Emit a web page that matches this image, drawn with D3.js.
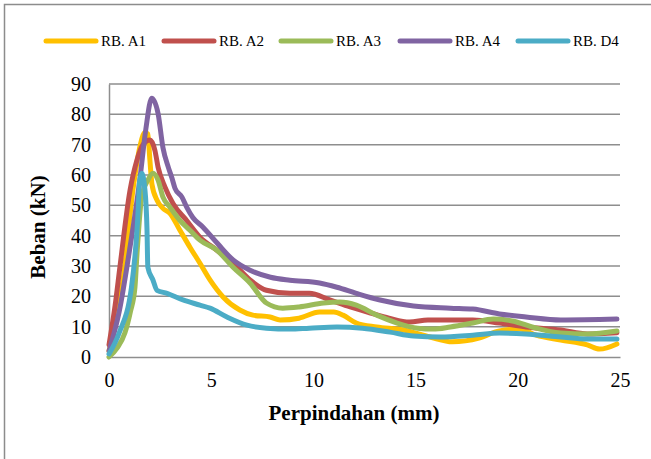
<!DOCTYPE html>
<html lang="en">
<head>
    <meta charset="UTF-8">
    <title>Beban - Perpindahan</title>
    <script src="https://d3js.org/d3.v7.min.js"></script>
    <style>
        body { margin: 0; background: #fff; }
        text { font-family: "Liberation Serif", "Times New Roman", serif; }
    </style>
</head>
<body>
    <svg width="651" height="459"></svg>

    <script>
        // Series names and colours
        const seriesNames = ["RB. A1", "RB. A2", "RB. A3", "RB. A4", "RB. D4"];
        const seriesColors = ["#FFC000", "#C0504D", "#9BBB59", "#8064A2", "#4BACC6"];

        // Values: [perpindahan (mm), beban (kN)]
        const rbA1 = [[0,2],[0.35,12],[0.68,25],[1.17,55],[1.5,69],[1.76,74],[1.9,73.5],[2.0,65],[2.1,57],[2.35,51.7],[2.64,49],[2.98,47.4],[3.47,41.8],[3.96,36.2],[4.45,30.9],[4.94,25.4],[5.58,19.8],[6.4,15.5],[7.04,13.8],[7.88,13.2],[8.37,12.2],[9.3,12.8],[10.3,14.8],[11,14.8],[11.45,13.8],[12.1,11.2],[13.1,9.9],[14.4,8.9],[15.7,6.6],[16.8,5],[18.1,6.2],[19.1,8.6],[20.1,9.2],[20.9,7.2],[22.1,5.6],[23.4,4],[24,2.6],[24.85,4.3]];
        const rbA2 = [[0,4],[0.3,17],[0.54,30],[1.03,55],[1.37,65],[1.66,70],[2.0,71.5],[2.25,68],[2.4,62.6],[2.74,56],[3.13,50.6],[3.8,45],[4.45,39.5],[5.28,35.2],[6.07,30.9],[6.9,25.4],[7.7,22],[8.85,21],[9.8,21],[10.8,18.8],[11.8,16.5],[12.8,14.5],[13.7,12.8],[14.7,11.5],[15.6,12.2],[16.7,12.2],[17.8,12.2],[19.1,11.2],[20.4,9.9],[22.1,8.9],[23.4,7.6],[24.85,8]];
        const rbA3 = [[0,0],[0.4,3],[0.78,8],[1.05,15],[1.27,23],[1.37,34],[1.6,52.7],[1.9,58.3],[2.15,60.6],[2.4,58.3],[2.64,52.7],[2.98,49.4],[3.47,45],[3.96,41.8],[4.45,38.5],[5.28,35.2],[6.07,29.6],[6.9,24.4],[7.7,17.8],[8.5,16.1],[9.3,16.5],[10.5,17.8],[11.3,18.1],[12.1,17.1],[13.1,13.8],[14.1,11.2],[15.1,9.5],[15.85,9.2],[16.7,9.9],[17.8,11.2],[18.8,12.5],[19.8,11.8],[20.7,9.9],[22.1,7.9],[23.4,7.6],[24.85,8.6]];
        const rbA4 = [[0,2],[0.5,15],[1.0,35],[1.5,58],[1.8,75],[2.09,85.3],[2.4,80.3],[2.64,69],[2.9,62.6],[3.08,59],[3.23,55.6],[3.57,52.7],[3.8,49.4],[4.1,46],[4.6,42.8],[5.3,37.5],[6.07,32],[6.9,28.6],[7.9,26.3],[8.85,25.3],[10.3,24.4],[11.15,23],[12.1,21],[13.26,18.8],[14.9,16.8],[16.7,16.1],[17.8,15.8],[19.1,14.2],[20.4,13.2],[22.1,12.2],[24.85,12.5]];
        const rbD4 = [[0,1],[0.5,8],[1.1,23],[1.4,45],[1.5,58],[1.6,60.6],[1.76,55],[1.86,41.8],[1.9,29.6],[2.15,25.4],[2.35,22],[2.84,21],[3.62,18.8],[4.45,17.1],[4.94,16.1],[5.77,13.2],[6.75,10.5],[7.7,9.5],[8.85,9.2],[9.8,9.5],[11.15,9.9],[12.4,9.5],[13.75,8.2],[14.9,6.9],[16.2,6.6],[17.8,7.2],[19.1,7.9],[20.4,7.6],[22.1,6.6],[23.4,5.9],[24.85,5.9]];
        const seriesData = [rbA1, rbA2, rbA3, rbA4, rbD4];

        // Tick values
        const xTicks = [0, 5, 10, 15, 20, 25];
        const yTicks = [0, 10, 20, 30, 40, 50, 60, 70, 80, 90];

        const margin = { top: 84, right: 31, bottom: 102, left: 109 },
              width = 651 - margin.left - margin.right,
              height = 459 - margin.top - margin.bottom;

        const root = d3.select("svg");

        // outer chart border (only top and left edges show)
        root.append("rect")
            .attr("x", 4.5).attr("y", 4.5)
            .attr("width", 700).attr("height", 500)
            .attr("fill", "none")
            .attr("stroke", "#8c8c8c")
            .attr("stroke-width", 1.5);

        const svg = root.append("g")
            .attr("transform", `translate(${margin.left},${margin.top})`);

        const xScale = d3.scaleLinear().domain([0, 25]).range([0, width]);
        const yScale = d3.scaleLinear().domain([0, 90]).range([height, 0]);

        // horizontal gridlines
        svg.append("g")
           .selectAll("line")
           .data(yTicks.filter(d => d > 0))
           .enter()
           .append("line")
           .attr("x1", 0).attr("x2", width)
           .attr("y1", d => yScale(d)).attr("y2", d => yScale(d))
           .attr("stroke", "#8e8e8e")
           .attr("stroke-width", 1.5);

        // y-axis
        const yAxis = svg.append("g")
           .call(d3.axisLeft(yScale).tickValues(yTicks).tickSize(0).tickPadding(18));
        yAxis.select(".domain").attr("stroke", "#8e8e8e").attr("stroke-width", 1.5);
        yAxis.selectAll("text")
             .style("font-family", "Liberation Serif")
             .style("font-size", "20px")
             .attr("fill", "#000");

        // x-axis
        const xAxis = svg.append("g")
           .attr("transform", `translate(0, ${height})`)
           .call(d3.axisBottom(xScale).tickValues(xTicks).tickSize(0).tickPadding(16));
        xAxis.select(".domain").attr("stroke", "#8e8e8e").attr("stroke-width", 1.5);
        xAxis.selectAll("text")
             .style("font-family", "Liberation Serif")
             .style("font-size", "20px")
             .attr("fill", "#000");

        // lines
        const line = d3.line()
            .x(d => xScale(d[0]))
            .y(d => yScale(d[1]))
            .curve(d3.curveMonotoneX);

        svg.selectAll(".series")
           .data(seriesData)
           .enter()
           .append("path")
           .attr("class", "series")
           .attr("d", line)
           .attr("fill", "none")
           .attr("stroke", (d, i) => seriesColors[i])
           .attr("stroke-width", 5)
           .attr("stroke-linejoin", "round")
           .attr("stroke-linecap", "round");

        // axis titles
        root.append("text")
            .attr("x", 354)
            .attr("y", 420)
            .attr("text-anchor", "middle")
            .style("font-size", "21px")
            .style("font-weight", "bold")
            .text("Perpindahan (mm)");

        root.append("text")
            .attr("transform", "translate(45, 227) rotate(-90)")
            .attr("text-anchor", "middle")
            .style("font-size", "21px")
            .style("font-weight", "bold")
            .text("Beban (kN)");

        // legend
        const legendX = [44, 162, 279, 398, 516];
        const legend = root.append("g").selectAll("g")
            .data(seriesNames)
            .enter()
            .append("g")
            .attr("transform", (d, i) => `translate(${legendX[i]}, 41)`);

        legend.append("line")
              .attr("x1", 2).attr("x2", 52)
              .attr("stroke", (d, i) => seriesColors[i])
              .attr("stroke-width", 5)
              .attr("stroke-linecap", "round");

        legend.append("text")
              .attr("x", 57)
              .attr("y", 5)
              .style("font-size", "15px")
              .text(d => d);
    </script>
</body>
</html>
